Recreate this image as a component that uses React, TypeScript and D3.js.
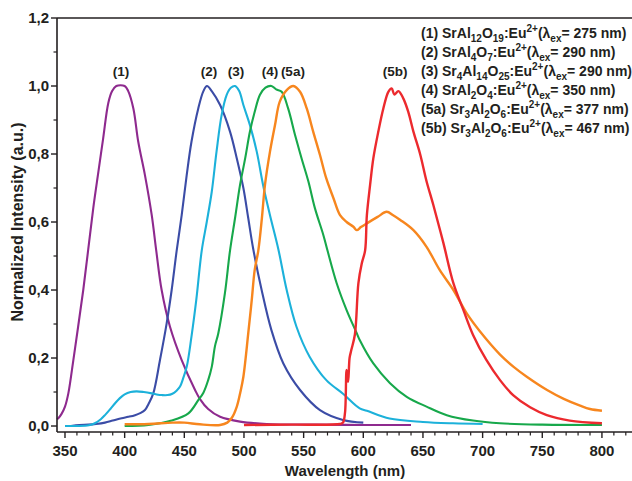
import React from "react";
import * as d3 from "d3";

type P = [number, number];

const s1: P[] = [[343.3,0.02],[344.4,0.023],[347,0.035],[350,0.057],[352.8,0.096],[357,0.194],[361,0.292],[365.3,0.4],[369.5,0.52],[373.7,0.641],[378,0.748],[382,0.846],[386.3,0.95],[389.5,0.985],[393,1.0],[400,1.0],[403,0.985],[407.3,0.934],[411.4,0.836],[417,0.738],[422.7,0.62],[426.5,0.515],[431,0.4],[438,0.292],[447.8,0.194],[459,0.106],[463,0.08],[470,0.05],[480,0.027],[496.7,0.013],[519,0.006],[560,0.004],[600,0.003],[640,0.003]];

const s2: P[] = [[355,0.0],[362,0.003],[369.5,0.004],[376,0.006],[383.5,0.01],[390,0.016],[397.5,0.023],[403,0.027],[408.7,0.032],[413,0.038],[417,0.047],[420,0.065],[424,0.096],[429.6,0.194],[435.2,0.302],[439.4,0.4],[443.6,0.516],[447.8,0.62],[452,0.738],[456,0.836],[461.7,0.934],[466,0.985],[469,1.0],[473,0.985],[480,0.944],[488.3,0.866],[494,0.787],[499.5,0.7],[503.6,0.611],[507.8,0.52],[514.8,0.4],[523,0.282],[533,0.184],[547,0.106],[563.7,0.047],[583,0.018],[600,0.01]];

const s3: P[] = [[350,0.0],[360,0.0],[370,0.002],[375,0.008],[380,0.02],[383.5,0.032],[388,0.05],[392,0.067],[396,0.082],[400,0.093],[405,0.1],[410,0.102],[416,0.1],[422.7,0.096],[428,0.092],[431,0.091],[436,0.091],[440,0.095],[443.5,0.104],[446.4,0.116],[449,0.14],[452,0.174],[456,0.263],[460,0.37],[464.6,0.516],[468.8,0.6],[473,0.689],[477,0.807],[481.3,0.915],[485.5,0.974],[489,0.995],[492.5,1.0],[496,0.985],[499.5,0.944],[505,0.885],[510.7,0.807],[516,0.709],[521.8,0.62],[528.8,0.52],[535.8,0.4],[544,0.292],[555,0.204],[569,0.135],[583,0.095],[597,0.052],[603,0.045],[622,0.022],[650,0.012],[675,0.008],[700,0.006]];

const s4: P[] = [[400,0.0],[420,0.003],[439.4,0.016],[453.4,0.037],[461.7,0.076],[466,0.098],[470,0.135],[473,0.174],[475.7,0.235],[478.5,0.273],[484,0.39],[488.3,0.516],[492.5,0.611],[496.7,0.709],[501,0.787],[505,0.866],[509,0.924],[513.4,0.974],[518,0.995],[523,1.0],[527,0.99],[531.6,0.983],[537,0.934],[542.8,0.856],[548.3,0.787],[554,0.719],[559.5,0.64],[566.5,0.562],[570,0.516],[577.7,0.42],[586,0.341],[594.5,0.273],[597,0.253],[608.4,0.184],[622.4,0.126],[636.4,0.086],[653,0.057],[670,0.032],[692,0.016],[714.6,0.008],[750,0.004],[800,0.003]];

const s5a: P[] = [[400,0.005],[420,0.006],[440,0.01],[450,0.01],[463,0.005],[480,0.003],[486,0.01],[490,0.025],[494,0.057],[497,0.1],[499.5,0.145],[503.6,0.273],[506.5,0.37],[509,0.459],[512,0.516],[515,0.611],[517.6,0.709],[521.8,0.807],[526,0.885],[530,0.954],[535.8,0.988],[541.4,1.0],[547,0.983],[552.6,0.934],[558,0.866],[563.7,0.797],[569,0.728],[575,0.67],[580.5,0.62],[586,0.6],[591.7,0.586],[594.5,0.576],[598,0.585],[603,0.596],[612,0.615],[619.6,0.63],[625,0.62],[631,0.606],[642,0.576],[653,0.527],[664,0.459],[675.5,0.4],[686.7,0.331],[698,0.277],[714.6,0.21],[726,0.174],[737,0.145],[754,0.106],[768,0.08],[781.7,0.06],[790,0.05],[800,0.045]];

const s5b: P[] = [[500,0.003],[540,0.004],[580.5,0.006],[583,0.01],[584.7,0.04],[586,0.165],[587.3,0.13],[588.5,0.2],[590,0.224],[593,0.27],[595.9,0.42],[598.7,0.478],[601.5,0.516],[603,0.62],[605.7,0.709],[608.4,0.787],[612.6,0.866],[616.8,0.934],[621,0.983],[623.8,0.993],[626,0.975],[629.4,0.985],[633.6,0.963],[637.7,0.924],[642,0.866],[647.6,0.8],[653,0.72],[658.7,0.65],[667,0.54],[675.5,0.42],[684,0.34],[692,0.268],[703,0.195],[714.6,0.135],[725.8,0.09],[739.8,0.055],[753.8,0.032],[773,0.016],[800,0.008]];

const seriesColors = ["#8E2A8E", "#3B4CA6", "#1CB1DA", "#17A84B", "#F7861E", "#EC2A2E"];
const seriesData = [s1, s2, s3, s4, s5a, s5b];

const peakLabels = ["(1)", "(2)", "(3)", "(4)", "(5a)", "(5b)"];
const peakLabelX = [397, 470.7, 493.3, 521.8, 541, 626.6];

const xMajorTicks = [350, 400, 450, 500, 550, 600, 650, 700, 750, 800];
const yMajorTicks = [0, 0.2, 0.4, 0.6, 0.8, 1.0, 1.2];

type Seg = [string, "n" | "b" | "p"];
const legendLines: Seg[][] = [
  [["(1) SrAl", "n"], ["12", "b"], ["O", "n"], ["19", "b"], [":Eu", "n"], ["2+", "p"], ["(λ", "n"], ["ex", "b"], ["= 275 nm)", "n"]],
  [["(2) SrAl", "n"], ["4", "b"], ["O", "n"], ["7", "b"], [":Eu", "n"], ["2+", "p"], ["(λ", "n"], ["ex", "b"], ["= 290 nm)", "n"]],
  [["(3) Sr", "n"], ["4", "b"], ["Al", "n"], ["14", "b"], ["O", "n"], ["25", "b"], [":Eu", "n"], ["2+", "p"], ["(λ", "n"], ["ex", "b"], ["= 290 nm)", "n"]],
  [["(4) SrAl", "n"], ["2", "b"], ["O", "n"], ["4", "b"], [":Eu", "n"], ["2+", "p"], ["(λ", "n"], ["ex", "b"], ["= 350 nm)", "n"]],
  [["(5a) Sr", "n"], ["3", "b"], ["Al", "n"], ["2", "b"], ["O", "n"], ["6", "b"], [":Eu", "n"], ["2+", "p"], ["(λ", "n"], ["ex", "b"], ["= 377 nm)", "n"]],
  [["(5b) Sr", "n"], ["3", "b"], ["Al", "n"], ["2", "b"], ["O", "n"], ["6", "b"], [":Eu", "n"], ["2+", "p"], ["(λ", "n"], ["ex", "b"], ["= 467 nm)", "n"]],
];

const W = 632, H = 481;
const FONT = "'Liberation Sans', Arial, sans-serif";
const INK = "#231f20";

function RichText({ segs, x, y }: { segs: Seg[]; x: number; y: number }) {
  let cur = 0;
  const shift = { n: 0, b: 4, p: -6 } as const;
  return (
    <text x={x} y={y} fontFamily={FONT} fontWeight="bold" fontSize={14} fill={INK}>
      {segs.map(([t, k], i) => {
        const dy = shift[k] - cur;
        cur = shift[k];
        return (
          <tspan key={i} dy={dy} fontSize={k === "n" ? 14 : 10}>{t}</tspan>
        );
      })}
    </text>
  );
}

export default function App() {
  const x = d3.scaleLinear().domain([343.3, 831.9]).range([57, 640]);
  const y = d3.scaleLinear().domain([-0.0176, 1.2]).range([432, 18]);
  const line = d3
    .line<P>()
    .x((d) => x(d[0]))
    .y((d) => y(d[1]))
    .curve(d3.curveCatmullRom.alpha(0.5));

  const xMinor = d3.range(350, 831, 10).filter((v) => v % 50 !== 0);
  const yMinor = d3.range(0.1, 1.2, 0.2);
  const left = x.range()[0];
  const bottom = y.range()[0];
  const top = y.range()[1];

  return (
    <svg width={W} height={H} style={{ position: "absolute", left: 0, top: 0, background: "#fff" }}>
      <rect width={W} height={H} fill="#fff" />
      <g>
        {seriesData.map((d, i) => (
          <path key={i} d={line(d) || ""} fill="none" stroke={seriesColors[i]} strokeWidth={i >= 4 ? 2.4 : 2.1} strokeLinejoin="round" />
        ))}
      </g>
      <line x1={left} x2={W} y1={top} y2={top} stroke={INK} strokeWidth={1.6} />
      <line x1={left} x2={W} y1={bottom} y2={bottom} stroke={INK} strokeWidth={1.6} />
      <line x1={left} x2={left} y1={top} y2={bottom} stroke={INK} strokeWidth={1.6} />
      {xMajorTicks.map((t) => (
        <g key={"xm" + t}>
          <line x1={x(t)} x2={x(t)} y1={bottom} y2={bottom + 6} stroke={INK} strokeWidth={1.4} />
          <text x={x(t)} y={bottom + 24} textAnchor="middle" fontFamily={FONT} fontWeight="bold" fontSize={15} fill={INK}>{t}</text>
        </g>
      ))}
      {xMinor.map((t) => (
        <line key={"xn" + t} x1={x(t)} x2={x(t)} y1={bottom} y2={bottom + 3.5} stroke={INK} strokeWidth={1.2} />
      ))}
      {yMajorTicks.map((t) => (
        <g key={"ym" + t}>
          <line x1={left - 6} x2={left} y1={y(t)} y2={y(t)} stroke={INK} strokeWidth={1.4} />
          <text x={left - 8} y={y(t) + 5} textAnchor="end" fontFamily={FONT} fontWeight="bold" fontSize={15} fill={INK}>{t.toFixed(1).replace(".", ",")}</text>
        </g>
      ))}
      {yMinor.map((t) => (
        <line key={"yn" + t} x1={left - 3.5} x2={left} y1={y(t)} y2={y(t)} stroke={INK} strokeWidth={1.2} />
      ))}
      <text x={345} y={476} textAnchor="middle" fontFamily={FONT} fontWeight="bold" fontSize={15} fill={INK}>Wavelength (nm)</text>
      <text transform={`translate(23,${(top + bottom) / 2 - 3}) rotate(-90)`} textAnchor="middle" fontFamily={FONT} fontWeight="bold" fontSize={16} fill={INK}>Normalized Intensity (a.u.)</text>
      {peakLabels.map((l, i) => (
        <text key={l} x={x(peakLabelX[i])} y={76} textAnchor="middle" fontFamily={FONT} fontWeight="bold" fontSize={13.5} fill={INK}>{l}</text>
      ))}
      {legendLines.map((segs, i) => (
        <RichText key={i} segs={segs} x={421} y={38 + i * 19} />
      ))}
    </svg>
  );
}
